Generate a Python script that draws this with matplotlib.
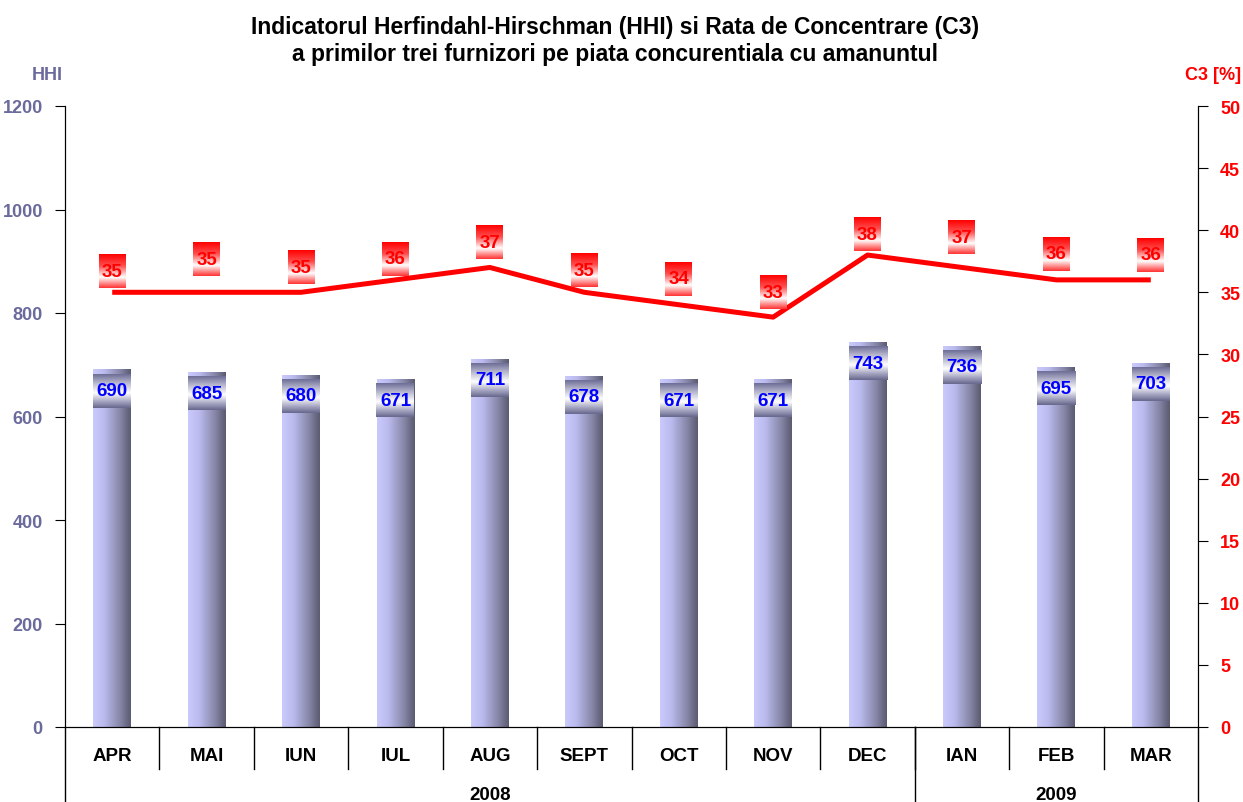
import numpy as np
import matplotlib
matplotlib.use("Agg")
import matplotlib.pyplot as plt
from matplotlib.colors import LinearSegmentedColormap

plt.rcParams['font.family'] = ['Liberation Sans', 'DejaVu Sans']

# date
luni = ['APR', 'MAI', 'IUN', 'IUL', 'AUG', 'SEPT', 'OCT', 'NOV', 'DEC', 'IAN', 'FEB', 'MAR']
hhi = [690, 685, 680, 671, 711, 678, 671, 671, 743, 736, 695, 703]
c3 = [35, 35, 35, 36, 37, 35, 34, 33, 38, 37, 36, 36]
ani = ['2008', '2009']
luni_pe_an = [9, 3]

# decalaj etichete C3 (pixeli deasupra liniei), ca in original
dec_c3 = [21, 33, 25, 21, 25, 22, 26, 25, 21, 30, 26, 25]

titlu = ("Indicatorul Herfindahl-Hirschman (HHI) si Rata de Concentrare (C3)\n"
         "a primilor trei furnizori pe piata concurentiala cu amanuntul")

culoare_hhi = '#6a6a9c'
rosu = '#ff0000'

cm_bara = LinearSegmentedColormap.from_list(
    'bara', [(0, '#cacafc'), (0.3, '#babaee'), (0.7, '#8888aa'), (1, '#5a5a70')])
cm_eticheta = LinearSegmentedColormap.from_list(
    'et', [(0, '#6c6c96'), (0.25, '#b4b4cc'), (0.55, '#ffffff'), (0.8, '#a8a8c4'), (1, '#66668c')])
cm_rosu = LinearSegmentedColormap.from_list(
    'rosu', [(0, '#ff0000'), (0.35, '#ff5050'), (0.68, '#ffffff'), (1, '#ff3030')])

fig = plt.figure(figsize=(12.43, 8.03), dpi=100)
ax = fig.add_axes([65 / 1243, 75 / 803, 1133 / 1243, 621 / 803])
ax2 = ax.twinx()

n = len(luni)
x = np.arange(n)
latime = 0.40
grad_h = np.linspace(0, 1, 256).reshape(1, -1)
grad_v = np.linspace(0, 1, 256).reshape(-1, 1)

px_x = 1133 / n          # pixeli pe categorie
px_hhi = 621 / 1200      # pixeli pe unitate HHI
px_c3 = 621 / 50

for i, v in enumerate(hhi):
    ax.imshow(grad_h, cmap=cm_bara, aspect='auto', interpolation='bicubic',
              extent=[x[i] - latime / 2, x[i] + latime / 2, 0, v], zorder=2)
    # eticheta valoare
    w = 38 / px_x
    h = 34 / px_hhi
    yc = v - 40
    ax.imshow(grad_v, cmap=cm_eticheta, aspect='auto', interpolation='bicubic',
              extent=[x[i] - w / 2, x[i] + w / 2, yc - h / 2, yc + h / 2], zorder=3)
    ax.text(x[i], yc, str(v), ha='center', va='center', color='#0000ff',
            fontsize=13.5, fontweight='bold', zorder=4)

ax.set_xlim(-0.5, n - 0.5)
ax.set_ylim(0, 1200)
ax.set_yticks(np.arange(0, 1201, 200))
ax.tick_params(axis='y', colors='black', labelcolor=culoare_hhi, labelsize=13,
               length=7, direction='out', pad=9)
for t in ax.get_yticklabels():
    t.set_fontweight('bold')
ax.set_xticks([])
ax.spines['top'].set_visible(False)

ax2.plot(x, c3, color=rosu, lw=3.6, zorder=5, solid_capstyle='butt')
for i, v in enumerate(c3):
    w = 27 / px_x
    h = 34 / px_c3
    yc = v + dec_c3[i] / px_c3
    ax2.imshow(grad_v, cmap=cm_rosu, aspect='auto', interpolation='bicubic',
               extent=[x[i] - w / 2, x[i] + w / 2, yc - h / 2, yc + h / 2], zorder=6)
    ax2.text(x[i], yc, str(v), ha='center', va='center', color=rosu,
             fontsize=13.5, fontweight='bold', zorder=7)
ax2.set_xlim(-0.5, n - 0.5)
ax2.set_ylim(0, 50)
ax2.set_yticks(np.arange(0, 51, 5))
ax2.tick_params(axis='y', colors='black', labelcolor=rosu, labelsize=13,
                length=7, direction='out', pad=9)
for t in ax2.get_yticklabels():
    t.set_fontweight('bold')
ax2.spines['top'].set_visible(False)

# axa categoriilor pe doua niveluri
tr = ax.get_xaxis_transform()
jos_scurt = -42 / 621
jos_lung = -75 / 621
for i in range(1, n):
    ax.plot([i - 0.5, i - 0.5], [0, jos_scurt], transform=tr, color='black',
            lw=1, clip_on=False)
for i, nume in enumerate(luni):
    ax.text(x[i], -29 / 621, nume, transform=tr, ha='center', va='center',
            fontsize=13.5, fontweight='bold')

start = 0
granite = [-0.5]
for an, k in zip(ani, luni_pe_an):
    ax.text(start + k / 2 - 0.5, -68 / 621, an, transform=tr, ha='center',
            va='center', fontsize=13.5, fontweight='bold')
    start += k
    granite.append(start - 0.5)
for g in granite:
    ax.plot([g, g], [0, jos_lung], transform=tr, color='black', lw=1, clip_on=False)

fig.text(615 / 1243, 1 - 41 / 803, titlu, ha='center', va='center',
         fontsize=16.5, fontweight='bold', linespacing=1.25)
fig.text(47 / 1243, 1 - 75 / 803, 'HHI', ha='center', va='center',
         color=culoare_hhi, fontsize=13, fontweight='bold')
fig.text(1213 / 1243, 1 - 75 / 803, 'C3 [%]', ha='center', va='center',
         color=rosu, fontsize=13, fontweight='bold')

fig.savefig('out.png', dpi=100)
